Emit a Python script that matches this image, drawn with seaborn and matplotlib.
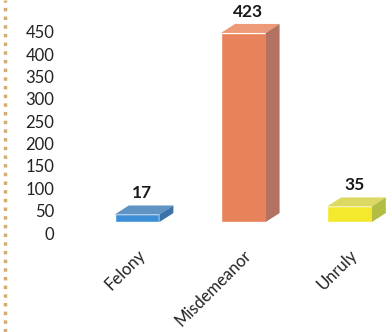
import numpy as np
import pandas as pd
import seaborn as sns
import matplotlib.pyplot as plt
from matplotlib.patches import Polygon
from matplotlib.lines import Line2D
from matplotlib.transforms import ScaledTranslation

categories = ["Felony", "Misdemeanor", "Unruly"]
counts = [17, 423, 35]
front_colors = ["#3c8fd6", "#e8825a", "#f4e92c"]
top_colors = ["#5f93c4", "#ec9a78", "#dcd862"]
side_colors = ["#3b72a8", "#b37262", "#b2bd44"]

df = pd.DataFrame({"category": categories, "count": counts})

sns.set_style("white")
plt.rcParams["font.family"] = ["Lato", "DejaVu Sans"]

fig = plt.figure(figsize=(3.92, 3.32), dpi=100)
ax = fig.add_axes([0.16, 0.298, 0.84, 0.606])

sns.barplot(data=df, x="category", y="count", hue="category",
            palette=front_colors, width=0.42, legend=False, ax=ax,
            saturation=1)
ax.set_xlim(-0.7, 2.4)
ax.set_ylim(0, 450)
ax.set_yticks(np.arange(0, 451, 50))
ax.set_xlabel("")
ax.set_ylabel("")
sns.despine(ax=ax, left=True, bottom=True)
ax.tick_params(axis="y", length=0, labelsize=12, pad=6, colors="#222222")
ax.tick_params(axis="x", length=0, labelsize=12, pad=10, colors="#222222")
plt.setp(ax.get_xticklabels(), rotation=45, ha="right", rotation_mode="anchor")

# pseudo 3-D: bars sit on a floor raised a little above the zero line
lift = ax.transData + ScaledTranslation(0, 0.11, fig.dpi_scale_trans)

fig.canvas.draw()
inv = ax.transData.inverted()
x0, y0 = inv.transform((0, 0))
x1, y1 = inv.transform((14, 9))
ddx, ddy = x1 - x0, y1 - y0
_, y2 = inv.transform((0, 4))
gap = y2 - y0

for i, p in enumerate(list(ax.patches)):
    p.set_transform(lift)
    p.set_clip_on(False)
    x, w, h = p.get_x(), p.get_width(), p.get_height()
    top = Polygon([(x, h), (x + w, h), (x + w + ddx, h + ddy), (x + ddx, h + ddy)],
                  closed=True, facecolor=top_colors[i], edgecolor="none",
                  transform=lift, clip_on=False)
    side = Polygon([(x + w, 0), (x + w + ddx, ddy), (x + w + ddx, h + ddy), (x + w, h)],
                   closed=True, facecolor=side_colors[i], edgecolor="none",
                   transform=lift, clip_on=False)
    ax.add_patch(top)
    ax.add_patch(side)
    ax.text(x + w / 2 + ddx / 3, h + ddy + gap, str(counts[i]), ha="center", va="bottom",
            fontsize=12.5, fontweight="bold", color="#1a1a1a", transform=lift, clip_on=False)

# dotted scan border on the left
fig.add_artist(Line2D([0.012, 0.012], [0, 1], transform=fig.transFigure,
                      ls=(0, (1, 1.5)), color="#d4ad73", lw=2.5))

fig.savefig("out.png", dpi=100)
